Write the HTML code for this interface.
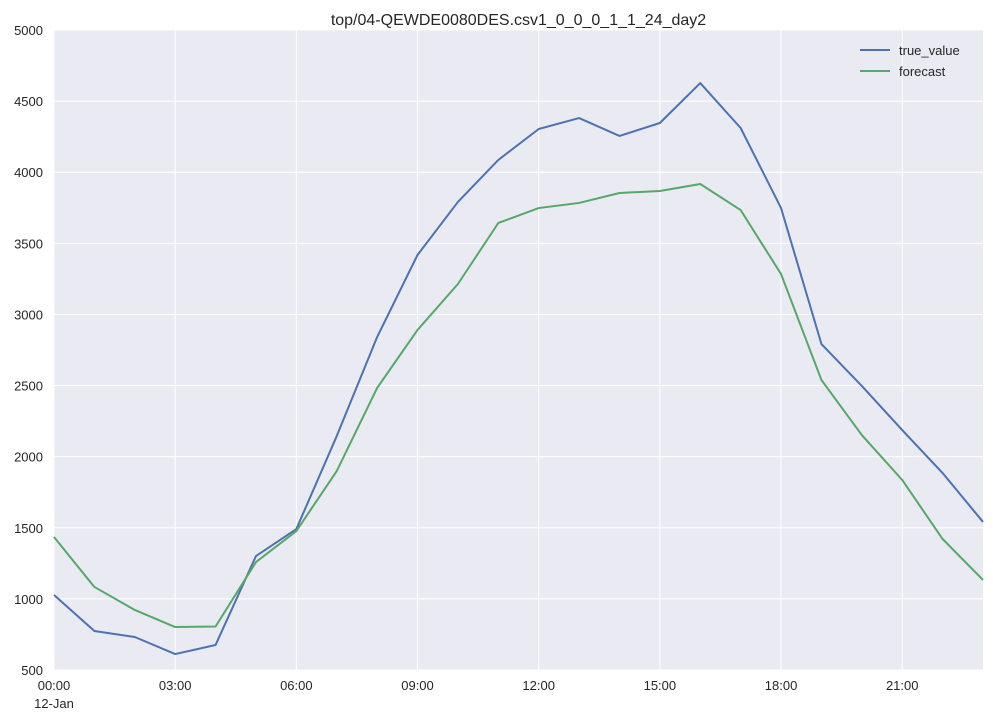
<!DOCTYPE html>
<html><head><meta charset="utf-8"><style>
html,body{margin:0;padding:0;background:#fff;}
svg text{font-family:"Liberation Sans",sans-serif;}
</style></head><body>
<svg id="chart" width="993" height="720" xmlns="http://www.w3.org/2000/svg"></svg>
<script>
const hours = [0,1,2,3,4,5,6,7,8,9,10,11,12,13,14,15,16,17,18,19,20,21,22,23];
const trueValue = [1027,774,732,612,676,1301,1491,2145,2841,3418,3791,4086,4304,4381,4255,4346,4627,4311,3748,2792,2497,2187,1885,1541];
const forecast = [1435,1084,922,802,806,1259,1477,1899,2483,2891,3214,3643,3748,3784,3854,3868,3917,3734,3284,2539,2152,1836,1421,1133];
const yTicks = [500,1000,1500,2000,2500,3000,3500,4000,4500,5000];
const xTickHours = [0,3,6,9,12,15,18,21];
const xTickLabels = ["00:00","03:00","06:00","09:00","12:00","15:00","18:00","21:00"];

const L=54,R=983,T=30,B=670;
const xS=h=>L+(h-0)*(R-L)/23;
const yS=v=>B-(v-500)*(B-T)/4500;
const NS="http://www.w3.org/2000/svg";
const svg=document.getElementById('chart');
function mk(tag,attrs,parent){const e=document.createElementNS(NS,tag);for(const k in attrs)e.setAttribute(k,attrs[k]);(parent||svg).appendChild(e);return e;}

const bg=mk('rect',{x:L,y:T,width:R-L,height:B-T,fill:'#eaeaf2'});



yTicks.forEach(v=>{
  const g=mk('line',{x1:L,x2:R,y1:yS(v),y2:yS(v),stroke:'#fff','stroke-width':1});
  
  
  const t=mk('text',{x:L-11,y:yS(v)+5,'text-anchor':'end','font-size':13,fill:'#262626'});
  t.textContent=v;
  
  
});
xTickHours.forEach((h,i)=>{
  const g=mk('line',{x1:xS(h),x2:xS(h),y1:T,y2:B,stroke:'#fff','stroke-width':1});
  
  
  const t=mk('text',{x:xS(h),y:B+20,'text-anchor':'middle','font-size':13,fill:'#262626'});
  t.textContent=xTickLabels[i];
  
  
});
const d2=mk('text',{x:xS(0),y:B+38,'text-anchor':'middle','font-size':13,fill:'#262626'});
d2.textContent='12-Jan';



function line(vals,color,name){
  const p=mk('polyline',{points:vals.map((v,i)=>xS(hours[i])+','+yS(v)).join(' '),fill:'none',stroke:color,'stroke-width':2,'stroke-linejoin':'round'});
  
  
}
line(trueValue,'#4c72b0','true-value-line');
line(forecast,'#55a868','forecast-line');

const title=mk('text',{x:(L+R)/2,y:25,'text-anchor':'middle','font-size':16,fill:'#262626'});
title.textContent='top/04-QEWDE0080DES.csv1_0_0_0_1_1_24_day2';



[['true_value','#4c72b0',50],['forecast','#55a868',71]].forEach(([n,c,y])=>{
  const l=mk('line',{x1:860,x2:890,y1:y,y2:y,stroke:c,'stroke-width':2});
  
  
  const t=mk('text',{x:899,y:y+5,'font-size':13,fill:'#262626'});
  t.textContent=n;
  
  
});
</script>
</body></html>
